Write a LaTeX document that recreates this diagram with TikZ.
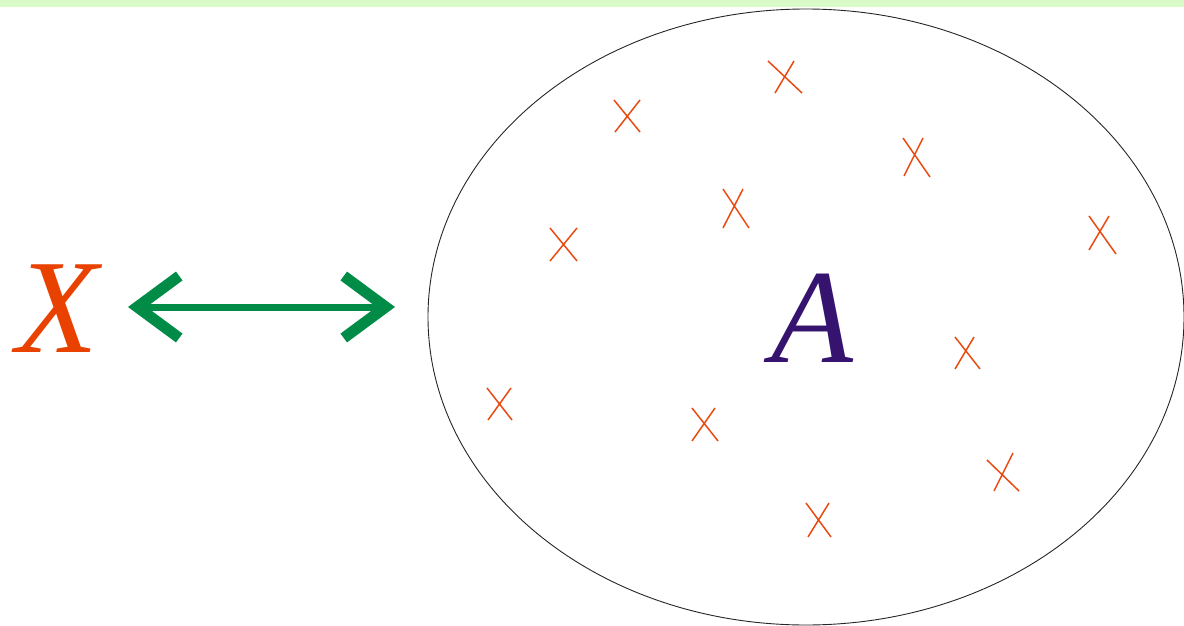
\documentclass[tikz,border=0pt]{standalone}
\usepackage{fontspec}
\setmainfont{Liberation Serif}
\usetikzlibrary{arrows.meta}
\definecolor{stripgreen}{HTML}{D9FBC8}
\definecolor{xorange}{HTML}{E84100}
\definecolor{apurple}{HTML}{35136E}
\definecolor{arrgreen}{HTML}{008C46}
\definecolor{crossred}{HTML}{E84A10}
\tikzset{
  bigletter/.style={inner sep=0pt, anchor=base, font=\fontsize{134}{134}\selectfont\itshape},
  crossline/.style={draw=crossred, line width=1.5pt},
  setoutline/.style={draw=black!85, line width=0.9pt},
  chevron/.tip={Straight Barb[length=42pt, width=62pt, line width=11pt, sharp]},
}
\begin{document}
\begin{tikzpicture}[x=1pt,y=-1pt]
\useasboundingbox (0,0) rectangle (1184,626);
\fill[stripgreen] (0,0) rectangle (1184,7);
\draw[setoutline] (806,317) ellipse [x radius=378, y radius=308];
\node[bigletter, text=xorange] (X) at (57,352) {X};
\node[bigletter, text=apurple] (A) at (812,362) {A};
\coordinate (tipL) at (128,307);
\coordinate (tipR) at (395,307);
\draw[draw=arrgreen, line width=7pt, chevron-chevron] (tipL) -- (tipR);
% crosses
\foreach \a/\b/\c/\d/\e/\f/\g/\h in {
  768/61/802/93/794/61/775/93,
  614/100/640/132/640/100/615/132,
  903/138/930/177/923/138/904/176,
  723/189/749/228/743/189/723/228,
  550/228/577/261/577/228/550/261,
  1089/216/1116/254/1109/216/1089/250,
  955/337/980/369/974/337/955/369,
  487/388/512/420/511/388/488/420,
  692/408/718/441/715/408/692/441,
  987/460/1019/491/1013/453/994/491,
  806/503/831/537/829/503/808/537}
{\draw[crossline] (\a,\b) -- (\c,\d) (\e,\f) -- (\g,\h);}
\end{tikzpicture}
\end{document}
